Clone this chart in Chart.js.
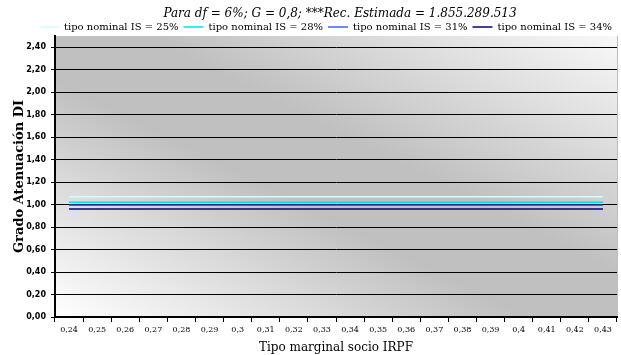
<!DOCTYPE html>
<html>
<head>
<meta charset="utf-8">
<script src="https://cdn.jsdelivr.net/npm/chart.js@4"></script>
<style>
  html, body { margin: 0; padding: 0; background: #fff; }
  #wrap { width: 621px; height: 355px; }
</style>
</head>
<body>
<div id="wrap"><canvas id="chart" width="621" height="355"></canvas></div>
<script>
// data
const categories = ['0,24', '0,25', '0,26', '0,27', '0,28', '0,29', '0,3', '0,31', '0,32', '0,33',
  '0,34', '0,35', '0,36', '0,37', '0,38', '0,39', '0,4', '0,41', '0,42', '0,43'];
const seriesNames = ['tipo nominal IS = 25%', 'tipo nominal IS = 28%', 'tipo nominal IS = 31%', 'tipo nominal IS = 34%'];
const is25 = [1.07, 1.07, 1.07, 1.07, 1.07, 1.07, 1.07, 1.07, 1.07, 1.07, 1.07, 1.07, 1.07, 1.07, 1.07, 1.07, 1.07, 1.07, 1.07, 1.07];
const is28 = [1.02, 1.02, 1.02, 1.02, 1.02, 1.02, 1.02, 1.02, 1.02, 1.02, 1.02, 1.02, 1.02, 1.02, 1.02, 1.02, 1.02, 1.02, 1.02, 1.02];
const is31 = [0.995, 0.995, 0.995, 0.995, 0.995, 0.995, 0.995, 0.995, 0.995, 0.995, 0.995, 0.995, 0.995, 0.995, 0.995, 0.995, 0.995, 0.995, 0.995, 0.995];
const is34 = [0.96, 0.96, 0.96, 0.96, 0.96, 0.96, 0.96, 0.96, 0.96, 0.96, 0.96, 0.96, 0.96, 0.96, 0.96, 0.96, 0.96, 0.96, 0.96, 0.96];
const seriesColors = ['#ccffff', '#00e0f0', '#3366ff', '#000080'];

const titleText = 'Para df = 6%; G = 0,8; ***Rec. Estimada = 1.855.289.513';
const yTitle = 'Grado Atenuación DI';
const xTitle = 'Tipo marginal socio IRPF';

// diagonal gray band behind the plot (dark along top-left -> bottom-right)
const plotBackground = {
  id: 'plotBackground',
  beforeDraw(chart) {
    const {ctx, chartArea: a} = chart;
    const w = a.right - a.left, h = a.bottom - a.top;
    const L = Math.sqrt(w * w + h * h);
    const len = 2 * w * h / L;
    const nx = h / L, ny = -w / L;
    const g = ctx.createLinearGradient(a.left, a.bottom, a.left + nx * len, a.bottom + ny * len);
    g.addColorStop(0, '#ffffff');
    g.addColorStop(0.42, '#c0c0c0');
    g.addColorStop(0.58, '#c0c0c0');
    g.addColorStop(1, '#f8f8f8');
    ctx.save();
    ctx.fillStyle = g;
    ctx.fillRect(a.left, a.top, w, h);
    ctx.strokeStyle = '#bdbdbd';
    ctx.lineWidth = 1;
    ctx.beginPath();
    ctx.moveTo(a.right + 0.5, a.top);
    ctx.lineTo(a.right + 0.5, a.bottom);
    ctx.stroke();
    ctx.restore();
  }
};

// the title sits right of centre in the original, so it is placed by hand;
// the legend is nudged down so it sits close to the plot like in the original
const offsetTitle = {
  id: 'offsetTitle',
  afterUpdate(chart) {
    if (chart.legend) {
      chart.legend.top += 6;
      chart.legend.bottom += 6;
    }
  },
  afterDraw(chart) {
    const ctx = chart.ctx;
    ctx.save();
    ctx.font = 'italic 12px "DejaVu Serif"';
    ctx.fillStyle = '#000';
    ctx.textAlign = 'center';
    ctx.textBaseline = 'middle';
    ctx.fillText(titleText, 340, 14);
    ctx.restore();
  }
};

const datasets = [is25, is28, is31, is34].map((vals, i) => ({
  label: seriesNames[i],
  data: vals,
  borderColor: seriesColors[i],
  backgroundColor: seriesColors[i],
  borderWidth: 1.5,
  pointRadius: 0,
  pointStyle: 'line',
  fill: false,
  tension: 0
}));

new Chart(document.getElementById('chart'), {
  type: 'line',
  data: { labels: categories, datasets: datasets },
  plugins: [plotBackground, offsetTitle],
  options: {
    responsive: false,
    animation: false,
    layout: { padding: { left: 0, right: 4, top: 11, bottom: 0 } },
    plugins: {
      title: { display: false },
      legend: {
        position: 'top',
        align: 'end',
        labels: {
          color: '#000',
          font: { family: 'DejaVu Serif', size: 10, lineHeight: 1 },
          usePointStyle: true,
          pointStyleWidth: 20,
          boxHeight: 6,
          padding: 5
        }
      },
      tooltip: { enabled: false }
    },
    scales: {
      x: {
        type: 'category',
        offset: true,
        afterFit: (scale) => { scale.height = 38; },
        grid: {
          offset: true,
          drawOnChartArea: false,
          drawTicks: true,
          tickLength: 5,
          color: '#000'
        },
        border: { color: '#000', width: 2 },
        ticks: {
          color: '#000',
          maxRotation: 0,
          autoSkip: false,
          padding: 3,
          font: { family: 'DejaVu Serif', size: 8 }
        },
        title: {
          display: true,
          text: xTitle,
          color: '#000',
          font: { family: 'DejaVu Serif', size: 12 },
          padding: { top: -2, bottom: 0 }
        }
      },
      y: {
        min: 0,
        max: 2.5,
        afterFit: (scale) => { scale.width = 55; },
        afterBuildTicks: (scale) => {
          scale.ticks = scale.ticks.filter(t => t.value <= 2.4001);
        },
        grid: {
          color: '#000',
          lineWidth: 1,
          drawTicks: true,
          tickLength: 4
        },
        border: { color: '#000', width: 2 },
        ticks: {
          stepSize: 0.2,
          color: '#000',
          padding: 5,
          font: { family: 'DejaVu Sans', size: 8, weight: 'bold' },
          callback: (v) => v.toFixed(2).replace('.', ',')
        },
        title: {
          display: true,
          text: yTitle,
          color: '#000',
          font: { family: 'DejaVu Serif', size: 13, weight: 'bold' },
          padding: { top: 12, bottom: 0 }
        }
      }
    }
  }
});
</script>
</body>
</html>
